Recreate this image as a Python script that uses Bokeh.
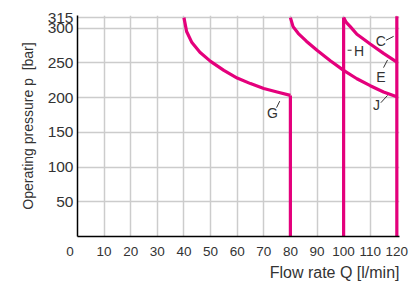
from bokeh.plotting import figure
from bokeh.models import Range1d, FixedTicker, Title, ColumnDataSource
from bokeh.core.properties import value
from bokeh.embed import file_html
from bokeh.resources import INLINE

# ---- data ----
x_ticks = [0, 10, 20, 30, 40, 50, 60, 70, 80, 90, 100, 110, 120]
y_ticks = [50, 100, 150, 200, 250, 300, 315]

g_q = [40, 41, 43, 46, 50, 55, 60, 65, 70, 75, 80]
g_p = [315, 295, 279, 265, 252, 239, 228, 220, 213, 208, 203]

j_q = [80, 81, 83, 86, 90, 95, 100, 105, 110, 115, 120]
j_p = [315, 302, 292, 281, 268, 253, 239, 227, 217, 208, 201]

c_q = [100, 101, 102.5, 105, 110, 115, 120]
c_p = [315, 308, 302, 291, 277, 263.5, 251]

vert_q = [80, 100, 120]
vert_top = [203, 315, 317]
vert_bottom = [0, 0, 0]

label_text = ["C", "E", "J", "H", "G"]
label_q = [114.0, 114.0, 112.4, 105.8, 73.3]
label_p = [280.9, 228.9, 188.7, 266.7, 178.4]

lead_q0 = [115.9, 115.0, 114.0, 101.5, 74.8]
lead_p0 = [282.3, 243.0, 192.5, 268.0, 185.4]
lead_q1 = [118.8, 116.5, 116.5, 103.0, 76.0]
lead_p1 = [288.0, 254.0, 203.0, 268.0, 194.8]

x_title = "Flow rate Q [l/min]"
y_title = "Operating pressure p\u00a0\u00a0[bar]"
zero_label = "0\u00a0\u00a0\u00a0\u00a0"

# ---- styles ----
FONT = "Liberation Sans"
TXT = "#333333"
PINK = "#E4007C"
GRID = "#cccccc"

p = figure(width=410, height=281, output_backend="svg", toolbar_location=None,
           x_range=Range1d(0, 121), y_range=Range1d(0, 318),
           min_border_left=77, min_border_right=11, min_border_top=15,
           min_border_bottom=42)
p.outline_line_color = None
p.background_fill_color = "white"
p.border_fill_color = "white"

p.xaxis.ticker = FixedTicker(ticks=x_ticks)
p.yaxis.ticker = FixedTicker(ticks=y_ticks)
p.xaxis.major_label_overrides = {0: zero_label}
for ax in (p.xaxis, p.yaxis):
    ax.axis_line_color = "black"
    ax.axis_line_width = 1.5
    ax.major_tick_line_color = None
    ax.minor_tick_line_color = None
    ax.major_tick_out = 0
    ax.major_tick_in = 0
    ax.major_label_text_font = FONT
    ax.major_label_text_color = TXT
p.xaxis.major_label_text_font_size = "13.5px"
p.yaxis.major_label_text_font_size = "15.5px"
p.xaxis.major_label_standoff = 7
p.yaxis.major_label_standoff = 4
p.yaxis.axis_label = y_title
p.yaxis.axis_label_text_font = FONT
p.yaxis.axis_label_text_font_size = "14px"
p.yaxis.axis_label_text_font_style = "normal"
p.yaxis.axis_label_text_color = TXT
p.yaxis.axis_label_standoff = 9

p.xgrid.grid_line_color = GRID
p.ygrid.grid_line_color = GRID
p.xgrid.grid_line_width = 1.5
p.ygrid.grid_line_width = 1.5

p.add_layout(Title(text=x_title, align="right", text_font=FONT,
                   text_font_size="16px", text_font_style="normal",
                   text_color=TXT, standoff=1), "below")

lw = 3.2
p.line(g_q, g_p, line_color=PINK, line_width=lw)
p.line(j_q, j_p, line_color=PINK, line_width=lw)
p.line(c_q, c_p, line_color=PINK, line_width=lw)
p.segment(x0=vert_q, y0=vert_bottom, x1=vert_q, y1=vert_top,
          line_color=PINK, line_width=lw)

p.segment(x0=lead_q0, y0=lead_p0, x1=lead_q1, y1=lead_p1,
          line_color=TXT, line_width=1)
src = ColumnDataSource(dict(x=label_q, y=label_p, t=label_text))
p.text(x="x", y="y", text="t", source=src, text_align="center",
       text_baseline="middle", text_font=value(FONT),
       text_font_size="14px", text_color=TXT)

open("out.html", "w").write(file_html(p, INLINE))
